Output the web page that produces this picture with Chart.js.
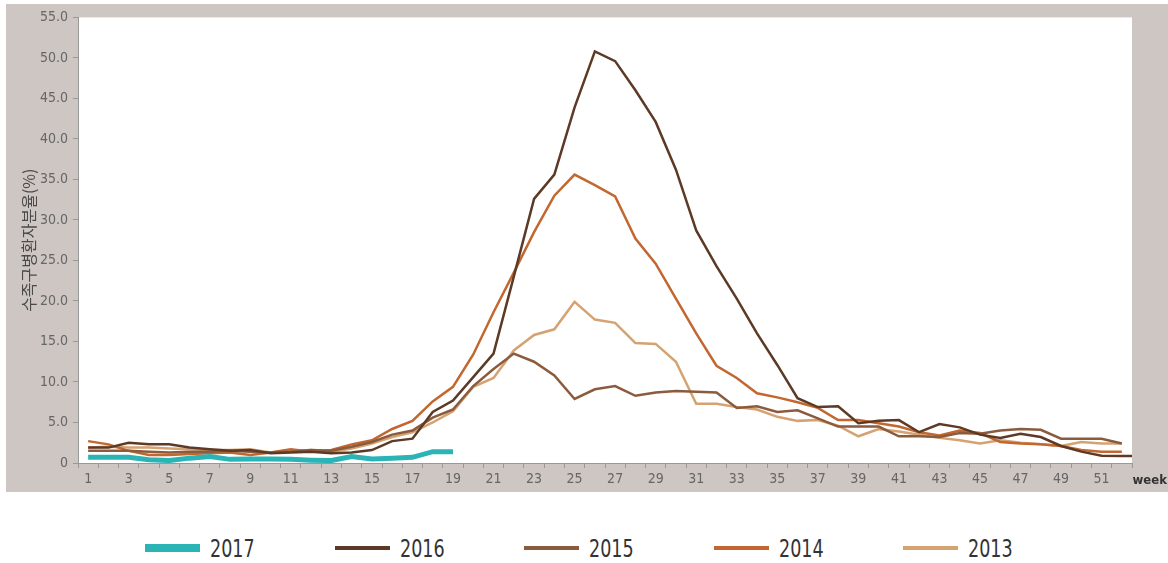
<!DOCTYPE html>
<html>
<head>
<meta charset="utf-8">
<script src="https://cdn.jsdelivr.net/npm/chart.js@4"></script>
<style>
  body { margin: 0; background: #fff; width: 1168px; height: 563px; overflow: hidden; position: relative; }
  #panel { position: absolute; left: 6px; top: 4px; width: 1162px; height: 488px; background: #cdc6c3; }
  #legend { position: absolute; left: 0; top: 532px; width: 1168px; height: 32px; }
  .item { position: absolute; top: 0; height: 32px; display: flex; align-items: center; }
  .swatch { width: 55px; height: 4px; margin-right: 10px; flex: none; }
  .item span { font-family: "DejaVu Sans Condensed", sans-serif; font-size: 25px; color: #333;
    display: inline-block; transform: scaleX(0.78); transform-origin: left center; }
</style>
</head>
<body>
<div id="panel"><canvas id="chart-hfmd" width="1162" height="488"></canvas></div>
<div id="legend"></div>
<script>
const weeks = ['1','2','3','4','5','6','7','8','9','10','11','12','13','14','15','16','17','18','19','20',
  '21','22','23','24','25','26','27','28','29','30','31','32','33','34','35','36','37','38','39','40',
  '41','42','43','44','45','46','47','48','49','50','51','52','53'];

const y2017 = [0.7, 0.7, 0.7, 0.4, 0.3, 0.6, 0.8, 0.45, 0.5, 0.5, 0.45, 0.35, 0.3, 0.8, 0.5, 0.6, 0.7, 1.4, 1.4];

// 2016 has a 53rd week, it runs off the right edge
const y2016 = [1.9, 1.9, 2.5, 2.3, 2.3, 1.9, 1.7, 1.5, 1.6, 1.2, 1.3, 1.4, 1.2, 1.3, 1.6, 2.7, 3.0, 6.3, 7.7, 10.6,
  13.5, 23.0, 32.6, 35.6, 43.9, 50.8, 49.6, 46.0, 42.1, 36.2, 28.7, 24.3, 20.3, 16.0, 12.1, 8.0, 6.9, 7.0, 4.9, 5.2,
  5.3, 3.8, 4.8, 4.4, 3.5, 3.1, 3.6, 3.2, 2.1, 1.4, 0.9, 0.85, 0.85];

const y2015 = [1.5, 1.5, 1.5, 1.4, 1.3, 1.4, 1.4, 1.5, 1.4, 1.3, 1.4, 1.6, 1.5, 2.0, 2.6, 3.5, 4.0, 5.6, 6.6, 9.5,
  11.6, 13.5, 12.5, 10.8, 7.9, 9.1, 9.5, 8.3, 8.7, 8.9, 8.8, 8.7, 6.8, 7.0, 6.3, 6.5, 5.5, 4.5, 4.5, 4.5,
  3.3, 3.3, 3.2, 3.7, 3.6, 4.0, 4.2, 4.1, 3.0, 3.0, 3.0, 2.4];

const y2014 = [2.7, 2.3, 1.5, 1.0, 1.0, 1.1, 1.2, 1.3, 1.0, 1.3, 1.7, 1.4, 1.6, 2.3, 2.8, 4.2, 5.2, 7.6, 9.4, 13.4,
  18.6, 23.5, 28.5, 33.0, 35.6, 34.3, 32.9, 27.7, 24.6, 20.3, 16.0, 12.0, 10.5, 8.6, 8.1, 7.5, 6.8, 5.3, 5.3, 4.9,
  4.5, 3.8, 3.4, 4.0, 3.7, 2.6, 2.4, 2.3, 2.1, 1.6, 1.4, 1.4];

const y2013 = [1.9, 2.0, 1.9, 1.9, 1.8, 1.7, 1.6, 1.6, 1.7, 1.3, 1.5, 1.6, 1.4, 1.8, 2.4, 3.2, 3.8, 5.0, 6.4, 9.4,
  10.5, 13.9, 15.8, 16.5, 19.9, 17.7, 17.3, 14.8, 14.7, 12.5, 7.3, 7.3, 6.9, 6.6, 5.7, 5.2, 5.3, 4.6, 3.3, 4.2,
  3.9, 3.5, 3.1, 2.8, 2.4, 2.8, 2.5, 2.3, 2.1, 2.6, 2.4, 2.4];

const seriesNames = ['2017', '2016', '2015', '2014', '2013'];
const seriesColors = ['#2bb4b6', '#5c3a26', '#8b5b3d', '#c2672f', '#d5a272'];
const seriesWidths = [5, 2.5, 2.5, 2.5, 2.5];
const seriesData = [y2017, y2016, y2015, y2014, y2013];

const tickFont = { family: "'DejaVu Sans Condensed', sans-serif", size: 14 };

const plotBackground = {
  id: 'plotBackground',
  beforeDraw(chart) {
    const { ctx, chartArea: a } = chart;
    ctx.save();
    ctx.fillStyle = '#fff';
    ctx.fillRect(a.left, a.top, a.right - a.left, a.bottom - a.top);
    ctx.restore();
  }
};

const weekLabel = {
  id: 'weekLabel',
  afterDraw(chart) {
    const { ctx, chartArea: a } = chart;
    ctx.save();
    ctx.font = "bold 13px 'DejaVu Sans Condensed', sans-serif";
    ctx.fillStyle = '#333';
    ctx.textBaseline = 'middle';
    ctx.textAlign = 'right';
    ctx.fillText('week', chart.width - 1, a.bottom + 18);
    ctx.restore();
  }
};

// every series goes on a hidden linear week axis so 2016's week 53 can run past the edge
const datasets = seriesNames.map((name, i) => ({
  label: name,
  data: seriesData[i].map((v, k) => ({ x: Number(weeks[k]), y: v })),
  xAxisID: 'wk',
  borderColor: seriesColors[i],
  backgroundColor: seriesColors[i],
  borderWidth: seriesWidths[i],
  pointRadius: 0,
  tension: 0,
  fill: false
}));

new Chart(document.getElementById('chart-hfmd'), {
  type: 'line',
  data: { labels: weeks.slice(0, 52), datasets: datasets },
  plugins: [plotBackground, weekLabel],
  options: {
    responsive: false,
    animation: false,
    devicePixelRatio: 1,
    layout: { padding: { top: 13, right: 36, left: 0, bottom: 0 } },
    plugins: {
      legend: { display: false },
      tooltip: { enabled: false }
    },
    scales: {
      x: {
        type: 'category',
        offset: true,
        grid: { offset: true, drawOnChartArea: false, tickLength: 5, color: '#999' },
        border: { color: '#999' },
        ticks: {
          autoSkip: false,
          maxRotation: 0,
          padding: 3,
          color: '#666',
          font: tickFont,
          callback: (val, idx) => (idx % 2 === 0 ? weeks[idx] : '')
        },
        afterFit: (s) => { s.height = 29; }
      },
      wk: {
        type: 'linear',
        position: 'bottom',
        display: false,
        min: 0.5,
        max: 52.5
      },
      y: {
        min: 0,
        max: 55,
        grid: { drawOnChartArea: false, tickLength: 5, color: '#999' },
        border: { color: '#999' },
        ticks: {
          stepSize: 5,
          padding: 5,
          color: '#666',
          font: tickFont,
          callback: (v) => (v === 0 ? '0' : v.toFixed(1))
        },
        title: {
          display: true,
          text: '수족구병환자분율(%)',
          color: '#4a4a4a',
          font: { family: "'Noto Sans CJK KR', sans-serif", size: 16 },
          padding: { top: 13, bottom: 0 }
        },
        afterFit: (s) => { s.width = 72; }
      }
    }
  }
});

const legend = document.getElementById('legend');
seriesNames.forEach((name, i) => {
  const item = document.createElement('div');
  item.className = 'item';
  item.style.left = (145 + i * 189.5) + 'px';
  const sw = document.createElement('div');
  sw.className = 'swatch';
  sw.style.background = seriesColors[i];
  sw.style.height = (i === 0 ? 8 : 4) + 'px';
  const txt = document.createElement('span');
  txt.textContent = name;
  item.appendChild(sw);
  item.appendChild(txt);
  legend.appendChild(item);
});
</script>
</body>
</html>
